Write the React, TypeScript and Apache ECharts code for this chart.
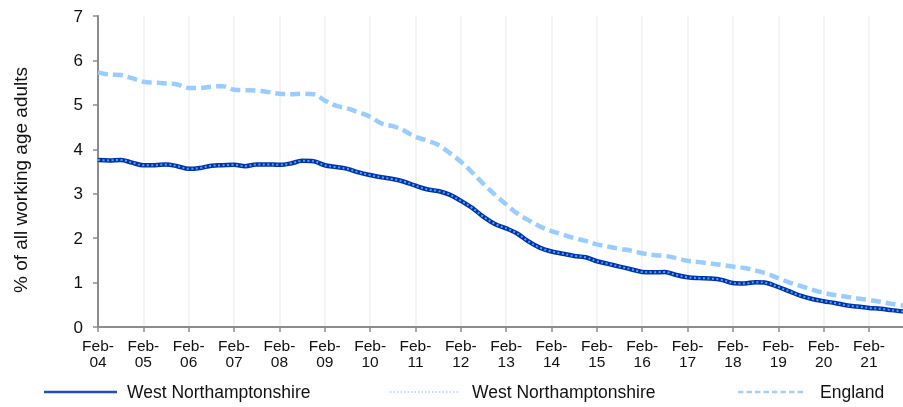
import React, { useEffect, useRef } from "react";
import * as echarts from "echarts";

const YEARS = ["04","05","06","07","08","09","10","11","12","13","14","15","16","17","18","19","20","21"];
const MONTHS = ["Feb", "May", "Aug", "Nov"];
const CATEGORIES: string[] = [];
YEARS.forEach((y) => MONTHS.forEach((m) => CATEGORIES.push(`${m}-${y}`)));

const WEST_NORTHANTS = [
  3.76, 3.75, 3.76, 3.70, 3.64, 3.64, 3.66, 3.62, 3.56, 3.58, 3.63, 3.64,
  3.65, 3.62, 3.66, 3.66, 3.65, 3.68, 3.74, 3.73, 3.64, 3.60, 3.56, 3.48,
  3.42, 3.37, 3.33, 3.27, 3.18, 3.10, 3.06, 2.98, 2.84, 2.68, 2.48, 2.32,
  2.22, 2.10, 1.92, 1.78, 1.70, 1.65, 1.60, 1.57, 1.48, 1.42, 1.36, 1.30,
  1.24, 1.23, 1.24, 1.17, 1.12, 1.10, 1.09, 1.06, 0.99, 0.98, 1.01, 0.99,
  0.90, 0.80, 0.70, 0.63, 0.58, 0.54, 0.49, 0.46, 0.43, 0.41, 0.38, 0.35,
];

const ENGLAND = [
  5.73, 5.68, 5.67, 5.60, 5.52, 5.50, 5.48, 5.46, 5.38, 5.38, 5.41, 5.42,
  5.34, 5.33, 5.32, 5.29, 5.25, 5.24, 5.25, 5.24, 5.10, 4.98, 4.92, 4.83,
  4.73, 4.58, 4.52, 4.42, 4.28, 4.20, 4.10, 3.92, 3.72, 3.48, 3.22, 2.98,
  2.76, 2.55, 2.40, 2.26, 2.16, 2.08, 2.00, 1.94, 1.86, 1.81, 1.76, 1.72,
  1.66, 1.62, 1.60, 1.55, 1.49, 1.46, 1.43, 1.40, 1.36, 1.33, 1.27, 1.20,
  1.10, 1.00, 0.92, 0.84, 0.77, 0.72, 0.68, 0.64, 0.61, 0.57, 0.52, 0.48,
];

const LEGEND_LABELS = ["West Northamptonshire", "West Northamptonshire", "England"];
const Y_AXIS_TITLE = "% of all working age adults";

const FONT = "'Liberation Sans', Arial, Helvetica, sans-serif";
const AXIS_GREY = "#8c8c8c";

function legendItem(x1: number, x2: number, textX: number, y: number, label: string, lineStyle: any) {
  return {
    type: "group",
    children: [
      {
        type: "line",
        shape: { x1, y1: y, x2, y2: y },
        style: lineStyle,
      },
      {
        type: "text",
        x: textX,
        y,
        style: {
          text: label,
          fontSize: 17.5,
          fontFamily: FONT,
          fill: "#111",
          textAlign: "left",
          textVerticalAlign: "middle",
        },
      },
    ],
  };
}

export default function App() {
  const ref = useRef<HTMLDivElement>(null);

  useEffect(() => {
    if (!ref.current) return;
    const chart = echarts.init(ref.current, undefined, { renderer: "svg" });
    chart.setOption({
      animation: false,
      textStyle: { fontFamily: FONT },
      grid: { left: 98, right: -2, top: 16, bottom: 80, containLabel: false },
      graphic: [
        {
          type: "text",
          x: 20,
          y: 180,
          rotation: Math.PI / 2,
          style: {
            text: Y_AXIS_TITLE,
            fontSize: 19,
            fontFamily: FONT,
            fill: "#111",
            textAlign: "center",
            textVerticalAlign: "middle",
          },
        },
        legendItem(44, 117, 127, 392, LEGEND_LABELS[0], {
          stroke: "#1f4fc2",
          lineWidth: 2.5,
        }),
        legendItem(390, 460, 472, 392, LEGEND_LABELS[1], {
          stroke: "#c5dcf5",
          lineWidth: 2,
          lineDash: [1.5, 2],
        }),
        legendItem(738, 806, 820, 392, LEGEND_LABELS[2], {
          stroke: "#a6cff8",
          lineWidth: 2.5,
          lineDash: [5.5, 3],
        }),
      ],
      xAxis: {
        type: "category",
        data: CATEGORIES,
        boundaryGap: false,
        axisLine: { show: true, lineStyle: { color: AXIS_GREY, width: 2 } },
        axisTick: { show: true, interval: 3, length: 5, lineStyle: { color: AXIS_GREY, width: 1.5 } },
        splitLine: { show: true, interval: 3, lineStyle: { color: "#f0f0f0", width: 1.5 } },
        axisLabel: {
          interval: 3,
          fontSize: 15.5,
          lineHeight: 16.5,
          color: "#111",
          margin: 10,
          formatter: (v: string) => v.replace("-", "-\n"),
        },
      },
      yAxis: {
        type: "value",
        min: 0,
        max: 7,
        interval: 1,
        axisLine: { show: true, lineStyle: { color: AXIS_GREY, width: 2 } },
        axisTick: { show: true, length: 5, lineStyle: { color: AXIS_GREY, width: 1.5 } },
        splitLine: { show: false },
        axisLabel: { fontSize: 17, color: "#111", margin: 15 },
      },
      series: [
        {
          id: "wn",
          name: "West Northamptonshire",
          type: "line",
          data: WEST_NORTHANTS,
          symbol: "none",
          smooth: 0.35,
          lineStyle: { color: "#0033aa", width: 4.5 },
          itemStyle: { color: "#0033aa" },
          z: 2,
        },
        {
          id: "wnDot",
          name: "West Northamptonshire (dotted)",
          type: "line",
          data: WEST_NORTHANTS,
          symbol: "none",
          smooth: 0.35,
          lineStyle: { color: "#4da3f2", width: 2, type: [2, 2.5] },
          itemStyle: { color: "#4da3f2" },
          z: 3,
        },
        {
          id: "eng",
          name: "England",
          type: "line",
          data: ENGLAND,
          symbol: "none",
          smooth: 0.35,
          lineStyle: { color: "#99ccff", width: 4.5, type: [10, 5] },
          itemStyle: { color: "#99ccff" },
          z: 2,
        },
      ],
    });
    return () => chart.dispose();
  }, []);

  return (
    <div
      ref={ref}
      style={{ position: "fixed", left: 0, top: 0, width: 903, height: 407 }}
    />
  );
}
